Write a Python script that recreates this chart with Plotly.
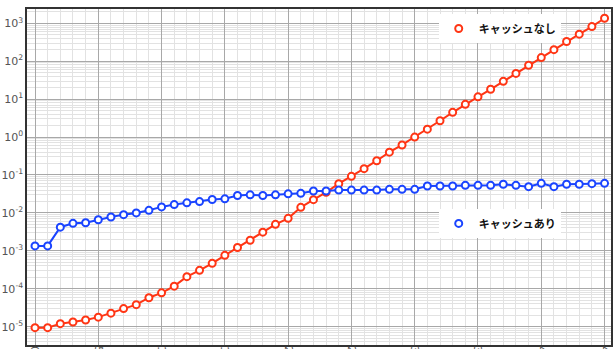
import plotly.graph_objects as go

# Step index (0..45)
steps = list(range(46))

# Elapsed time without cache
no_cache = [
    9.4e-6, 9.4e-6, 1.2e-5, 1.33e-5, 1.5e-5, 1.78e-5, 2.27e-5, 3.0e-5, 3.8e-5, 5.8e-5,
    7.8e-5, 1.17e-4, 2.08e-4, 3.05e-4, 4.67e-4, 7.6e-4, 1.22e-3, 1.9e-3, 3.1e-3, 5.0e-3,
    7.2e-3, 1.4e-2, 2.24e-2, 3.5e-2, 5.9e-2, 9.2e-2, 0.147, 0.238, 0.40, 0.62,
    1.0, 1.62, 2.7, 4.5, 7.3, 11.5, 18.2, 29.5, 47.7, 78.5,
    125, 202, 332, 518, 820, 1360,
]

# Elapsed time with cache
with_cache = [
    1.35e-3, 1.35e-3, 4.2e-3, 5.3e-3, 5.5e-3, 6.6e-3, 7.8e-3, 9.0e-3, 1.0e-2, 1.17e-2,
    1.44e-2, 1.66e-2, 1.84e-2, 1.99e-2, 2.25e-2, 2.35e-2, 2.87e-2, 3.0e-2, 2.87e-2, 3.0e-2,
    3.18e-2, 3.28e-2, 3.78e-2, 3.78e-2, 4.0e-2, 4.0e-2, 4.0e-2, 4.0e-2, 4.19e-2, 4.19e-2,
    4.19e-2, 5.12e-2, 5.12e-2, 5.12e-2, 5.34e-2, 5.34e-2, 5.34e-2, 5.68e-2, 5.34e-2, 4.93e-2,
    6.03e-2, 4.93e-2, 5.68e-2, 5.68e-2, 5.9e-2, 6.03e-2,
]

x_ticks = list(range(0, 50, 5))
y_tickvals = [10.0 ** k for k in range(-5, 4)]
y_ticktext = [f"10<sup>{k}</sup>" for k in range(-5, 4)]

RED = "#ff3514"
BLUE = "#1a44ff"
series = [
    ("キャッシュなし", no_cache, RED, "legend"),
    ("キャッシュあり", with_cache, BLUE, "legend2"),
]

fig = go.Figure()
for name, vals, color, lg in series:
    fig.add_trace(go.Scatter(
        x=steps, y=vals, mode="lines+markers", name=name, showlegend=False,
        line=dict(color=color, width=2),
        marker=dict(symbol="circle", size=7, color="white",
                    line=dict(color=color, width=2)),
    ))
    # marker-only legend entry
    fig.add_trace(go.Scatter(
        x=[None], y=[None], mode="markers", name=name, legend=lg,
        marker=dict(symbol="circle", size=7, color="white",
                    line=dict(color=color, width=2)),
    ))

legend_style = dict(
    bgcolor="white", borderwidth=0, xanchor="left", yanchor="top",
    font=dict(family="Noto Sans CJK JP", size=11, color="#111", weight="bold"),
)

fig.update_layout(
    width=614, height=349,
    margin=dict(l=27, r=3, t=9, b=4),
    paper_bgcolor="white", plot_bgcolor="white",
    legend=dict(x=0.705, y=0.985, **legend_style),
    legend2=dict(x=0.705, y=0.405, **legend_style),
    xaxis=dict(
        range=[-0.632, 45.51], tickvals=x_ticks, tickangle=90,
        showgrid=True, gridcolor="#a8a8a8", gridwidth=1,
        minor=dict(dtick=1, showgrid=True, gridcolor="#e2e2e2", gridwidth=1),
        showline=True, linecolor="#333", linewidth=1.5, mirror=True,
        zeroline=False, ticks="", automargin=False, ticklabelstandoff=-3,
        tickfont=dict(family="DejaVu Sans", size=11, color="#555"),
    ),
    yaxis=dict(
        type="log", range=[-5.484, 3.378],
        tickvals=y_tickvals, ticktext=y_ticktext,
        showgrid=True, gridcolor="#a8a8a8", gridwidth=1,
        minor=dict(dtick="D1", showgrid=True, gridcolor="#e2e2e2", gridwidth=1),
        showline=True, linecolor="#333", linewidth=1.5, mirror=True,
        zeroline=False, ticks="", automargin=False, ticklabelstandoff=0,
        tickfont=dict(family="DejaVu Sans", size=11, color="#555"),
    ),
)

fig.write_html("out.html")
